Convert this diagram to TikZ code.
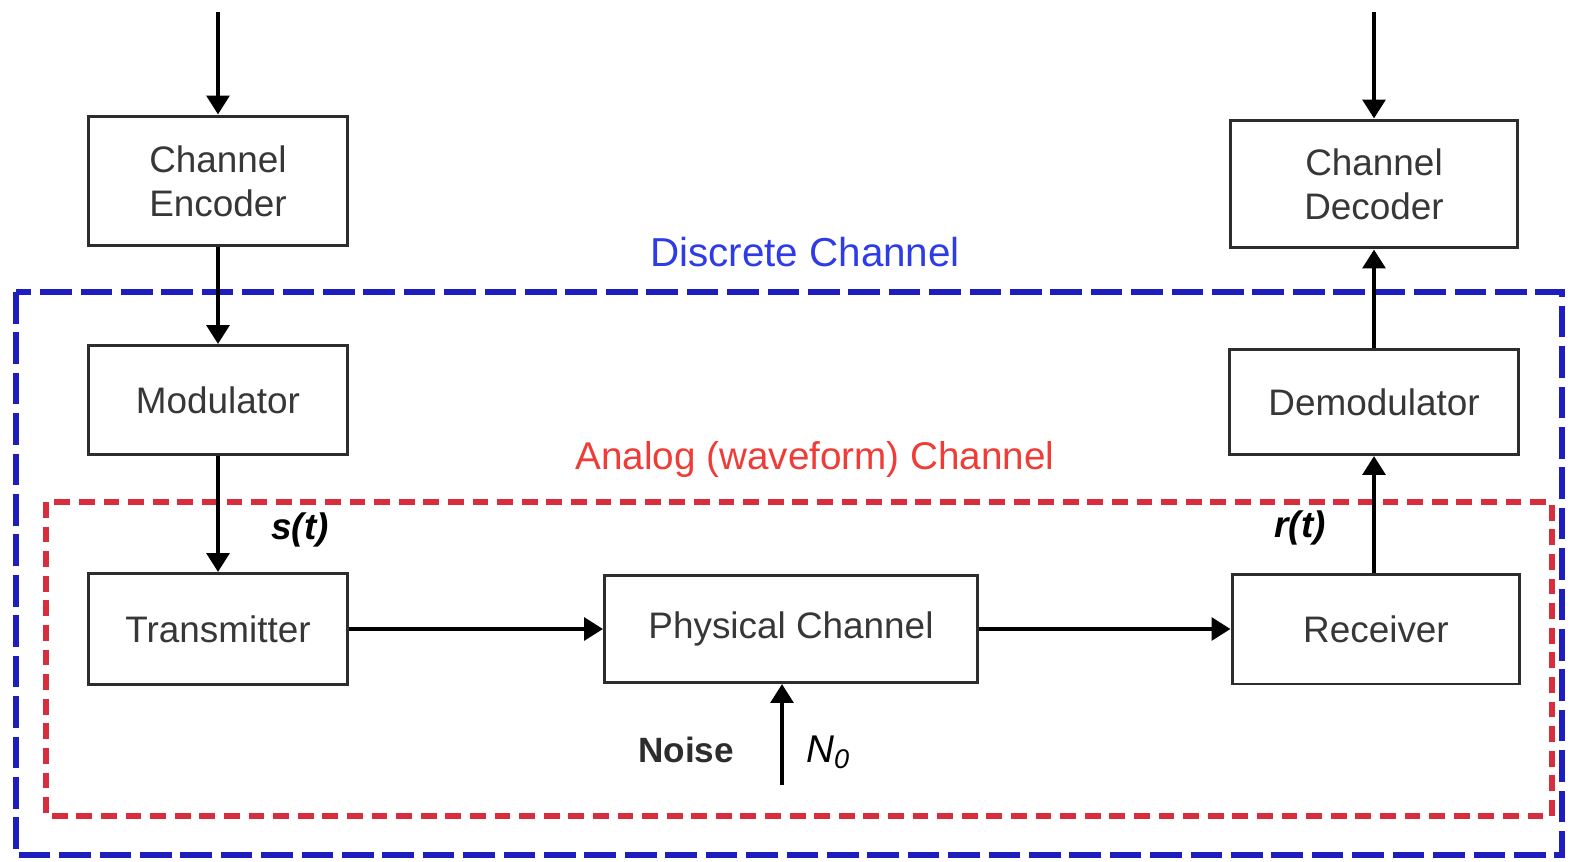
\documentclass[tikz,border=0pt]{standalone}
\usepackage{fontspec}
\setmainfont{Liberation Sans}
\usetikzlibrary{arrows.meta,calc}
\definecolor{boxline}{RGB}{45,45,45}
\definecolor{boxtext}{RGB}{55,55,55}
\definecolor{dblue}{RGB}{30,30,190}
\definecolor{tblue}{RGB}{45,60,230}
\definecolor{dred}{RGB}{215,45,60}
\definecolor{tred}{RGB}{240,60,55}
\tikzset{
  blockbox/.style={draw=boxline, line width=1.7pt, fill=white, inner sep=0pt,
    text=boxtext, font=\fontsize{21}{25}\selectfont, align=center},
  flow/.style={line width=2.6pt, -{Triangle[length=0.38cm,width=0.45cm]}},
  discrete/.style={draw=dblue, line width=3pt, dash pattern=on 18pt off 5pt},
  analog/.style={draw=dred, line width=3pt, dash pattern=on 9pt off 5pt},
  siglabel/.style={font=\fontsize{21}{25}\selectfont\bfseries\itshape},
}
\begin{document}
\begin{tikzpicture}[x=0.02cm,y=-0.02cm]
\useasboundingbox (0,0) rectangle (1572,862);
% channel frames
\draw[discrete] (16,292) rectangle (1562,855);
\draw[analog] (46,502) rectangle (1552,816);
\node[text=tblue, font=\fontsize{23}{27}\selectfont] (dlab) at (805,252) {Discrete Channel};
\node[text=tred, font=\fontsize{22}{26}\selectfont] (alab) at (815,460) {Analog (waveform) Channel};
% blocks
\node[blockbox, minimum width=5.2cm, minimum height=2.6cm] (enc) at (218,181) {Channel\\Encoder};
\node[blockbox, minimum width=5.2cm, minimum height=2.18cm] (mod) at (218,400) {Modulator};
\node[blockbox, minimum width=5.2cm, minimum height=2.22cm] (tx) at (218,629) {Transmitter};
\node[blockbox, minimum width=7.46cm, minimum height=2.14cm] (phys) at (791,629) {Physical Channel};
\node[blockbox, minimum width=5.76cm, minimum height=2.2cm] (rx) at (1376,629) {Receiver};
\node[blockbox, minimum width=5.78cm, minimum height=2.1cm] (demod) at (1374,402) {Demodulator};
\node[blockbox, minimum width=5.76cm, minimum height=2.56cm] (dec) at (1374,184) {Channel\\Decoder};
% free ends
\coordinate (srcin) at (218,12);
\coordinate (sinkin) at (1374,12);
\coordinate (noisein) at (782,785);
% connectors
\draw[flow] (srcin) -- (enc.north);
\draw[flow] (enc.south) -- (mod.north);
\draw[flow] (mod.south) -- (tx.north);
\draw[flow] (tx.east) -- (phys.west);
\draw[flow] (phys.east) -- (rx.west);
\draw[flow] (rx.north -| demod.south) -- (demod.south);
\draw[flow] (demod.north) -- (dec.south);
\draw[flow] (sinkin) -- (dec.north);
\draw[flow] (noisein) -- (noisein |- phys.south);
% labels
\node[siglabel] (st) at (300,530) {s(t)};
\node[siglabel] (rt) at (1300,528) {r(t)};
\node[font=\fontsize{20}{24}\selectfont\bfseries, text=boxline] (noise) at (686,750) {Noise};
\node[font=\fontsize{22}{26}\selectfont\itshape] (n0) at (828,752) {N\textsubscript{0}};
\end{tikzpicture}
\end{document}
